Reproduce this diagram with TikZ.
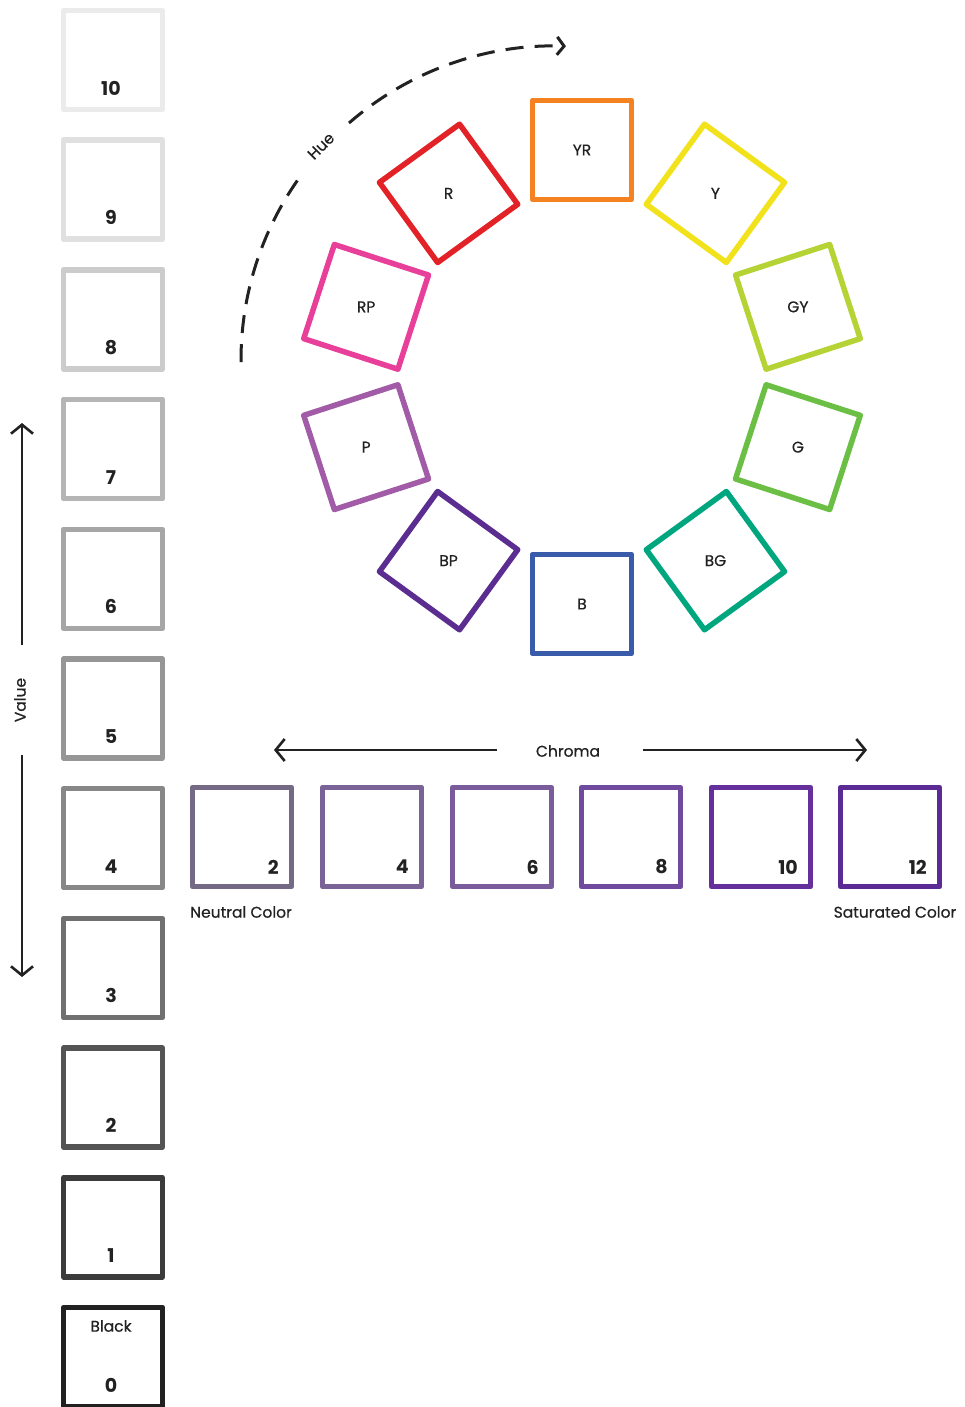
\documentclass[tikz,border=0pt]{standalone}
\usepackage{fontspec}
\setmainfont{Poppins}
\newfontfamily\medfont{Poppins}[FakeBold=0.5]
\usetikzlibrary{arrows.meta,calc}
\definecolor{cYR}{HTML}{F58220}
\definecolor{cY}{HTML}{F2E21B}
\definecolor{cGY}{HTML}{B5D334}
\definecolor{cG}{HTML}{6BBF45}
\definecolor{cBG}{HTML}{00A77E}
\definecolor{cB}{HTML}{3A5BA9}
\definecolor{cBP}{HTML}{5B2D90}
\definecolor{cP}{HTML}{A25BA6}
\definecolor{cRP}{HTML}{E8409A}
\definecolor{cR}{HTML}{E32227}
\definecolor{chA}{HTML}{746A86}
\definecolor{chB}{HTML}{7A6396}
\definecolor{chC}{HTML}{7A5C9C}
\definecolor{chD}{HTML}{6F4A9E}
\definecolor{chE}{HTML}{66309C}
\definecolor{chF}{HTML}{5C2A94}
\definecolor{ink}{HTML}{222222}
\begin{document}
\begin{tikzpicture}[x=1pt,y=-1pt,
  sq/.style={draw, line width=5.5pt, minimum size=99pt, inner sep=0pt, line join=round},
  num/.style={font=\fontsize{19}{19}\selectfont\bfseries, text=ink, inner sep=0pt},
  lbl/.style={font=\fontsize{15.5}{15.5}\selectfont\medfont, text=ink, inner sep=0pt},
  axis/.style={line width=2.6pt, draw=ink},
  barb/.style={-{Straight Barb[length=9pt,width=22pt]}},
  huearc/.style={line width=3pt, draw=ink, dash pattern=on 18pt off 11.2pt}]
\useasboundingbox (0,0) rectangle (964,1407);
\fill[white] (0,0) rectangle (964,1407);
% value column
\foreach \i/\g in {10/8,9/12,8/20,7/29,6/35,5/41,4/47,3/56,2/67,1/77,0/87} {
  \node[sq, draw=black!\g] (v\i) at (113,{60+129.7*(10-\i)}) {};
  \node[num] (vn\i) at ($(v\i.center)+(-2,28)$) {\i};
}
\node[lbl] (blk) at (111,1326) {Black};
% value arrows
\node[lbl, rotate=90] (val) at (20,700) {Value};
\coordinate (vus) at (22,645);
\coordinate (vu) at (22,423);
\coordinate (vds) at (22,755);
\coordinate (vd) at (22,977);
\draw[axis,barb] (vus) -- (vu);
\draw[axis,barb] (vds) -- (vd);
% hue wheel
\coordinate (hc) at (582,377);
\foreach \n/\a/\c in {YR/0/cYR, Y/36/cY, GY/72/cGY, G/108/cG, BG/144/cBG, B/180/cB, BP/216/cBP, P/252/cP, RP/288/cRP, R/324/cR} {
  \node[sq, draw=\c, rotate=-\a] (h\n) at ($(hc)+({227*sin(\a)},{-227*cos(\a)})$) {};
  \node[lbl] (t\n) at (h\n.center) {\n};
}
% hue arrow
\coordinate (ac) at (555,360);
\coordinate (hs1) at ($(ac)+(-180.4:314)$);
\coordinate (hs2) at ($(ac)+(-131:314)$);
\draw[huearc] (hs1) arc[start angle=-180.4, end angle=-145, radius=314];
\draw[huearc, -{Straight Barb[length=7pt,width=18pt]}] (hs2) arc[start angle=-131, end angle=-88, radius=314];
\node[lbl, rotate=45] (hue) at (321,146) {Hue};
% chroma
\node[lbl] (chr) at (568,751) {Chroma};
\coordinate (cls) at (497,750);
\coordinate (cl) at (274,750);
\coordinate (crs) at (643,750);
\coordinate (cr) at (867,750);
\draw[axis,barb] (cls) -- (cl);
\draw[axis,barb] (crs) -- (cr);
\foreach \k/\x/\c in {2/242/chA, 4/372/chB, 6/502/chC, 8/631/chD, 10/761/chE, 12/890/chF} {
  \node[sq, draw=\c] (c\k) at (\x,837) {};
  \node[num, anchor=east] (cn\k) at ($(c\k.center)+(37,30)$) {\k};
}
\node[lbl, anchor=west] (neu) at (190,912) {Neutral Color};
\node[lbl] (sat) at (895,912) {Saturated Color};
\end{tikzpicture}
\end{document}
